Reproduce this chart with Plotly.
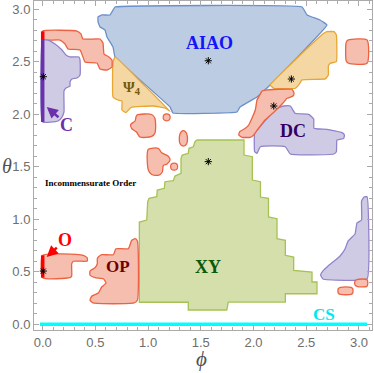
import plotly.graph_objects as go

# ---------------- data: region outlines (phi, theta) ----------------
aiao_phi = [0.686, 2.460, 2.508, 2.631, 2.697, 2.176, 2.033, 1.872, 1.843, 1.236, 1.208, 0.686, 0.667, 0.610, 0.591, 0.544, 0.525, 0.525, 0.563, 0.639, 0.667]
aiao_theta = [3.022, 3.022, 2.946, 2.898, 2.850, 2.298, 2.165, 2.070, 2.022, 2.012, 2.070, 2.546, 2.641, 2.736, 2.803, 2.831, 2.879, 2.927, 2.946, 2.946, 2.993]

psi_l_phi = [0.686, 0.667, 0.667, 0.714, 0.752, 0.752, 0.790, 0.838, 1.047, 1.160, 1.208, 0.950]
psi_l_theta = [2.546, 2.498, 2.165, 2.136, 2.127, 2.041, 2.017, 2.065, 2.079, 2.060, 2.030, 2.290]

psi_r_phi = [2.666, 2.697, 2.764, 2.786, 2.786, 2.729, 2.710, 2.710, 2.681, 2.460, 2.429, 2.397, 2.192, 2.159]
psi_r_theta = [2.771, 2.787, 2.787, 2.755, 2.501, 2.486, 2.460, 2.375, 2.337, 2.328, 2.280, 2.248, 2.248, 2.280]

pink_top_phi = [0.0, 0.325, 0.363, 0.382, 0.544, 0.572, 0.582, 0.629, 0.657, 0.657, 0.610, 0.544, 0.515, 0.401, 0.382, 0.354, 0.240, 0.212, 0.164, 0.022, 0.0]
pink_top_theta = [2.793, 2.793, 2.765, 2.717, 2.717, 2.679, 2.574, 2.546, 2.517, 2.450, 2.422, 2.431, 2.488, 2.498, 2.546, 2.612, 2.622, 2.669, 2.707, 2.707, 2.730]

c_phi = [0.0, 0.050, 0.117, 0.183, 0.221, 0.259, 0.344, 0.354, 0.354, 0.325, 0.278, 0.259, 0.259, 0.221, 0.202, 0.202, 0.183, 0.145, 0.0]
c_theta = [2.707, 2.707, 2.669, 2.612, 2.565, 2.546, 2.546, 2.517, 2.374, 2.346, 2.336, 2.307, 2.269, 2.250, 2.222, 2.022, 1.974, 1.936, 1.927]

o_phi = [0.0, 0.385, 0.423, 0.423, 0.392, 0.290, 0.275, 0.275, 0.259, 0.0]
o_theta = [0.657, 0.657, 0.631, 0.603, 0.600, 0.600, 0.574, 0.460, 0.444, 0.444]

op_phi = [0.528, 0.560, 0.670, 0.695, 0.812, 0.844, 0.876, 0.898, 0.898, 0.866, 0.480, 0.449, 0.465, 0.528, 0.560, 0.601, 0.575, 0.496, 0.449, 0.449, 0.496, 0.518, 0.518]
op_theta = [0.641, 0.663, 0.663, 0.720, 0.720, 0.800, 0.815, 0.793, 0.229, 0.203, 0.203, 0.229, 0.267, 0.298, 0.355, 0.393, 0.434, 0.444, 0.467, 0.508, 0.539, 0.577, 0.625]

xy_phi = [1.461, 1.910, 1.910, 1.989, 1.989, 2.066, 2.066, 2.142, 2.142, 2.223, 2.223, 2.302, 2.302, 2.381, 2.381, 2.555, 2.555, 2.602, 2.602, 2.302, 2.302, 1.761, 1.746, 1.381, 1.381, 0.917, 0.917, 0.987, 0.996, 1.009, 1.082, 1.087, 1.154, 1.160, 1.239, 1.255, 1.312, 1.312, 1.324, 1.381, 1.388, 1.429, 1.445]
xy_theta = [1.755, 1.755, 1.612, 1.596, 1.374, 1.358, 1.212, 1.200, 1.022, 1.006, 0.815, 0.800, 0.657, 0.641, 0.514, 0.498, 0.403, 0.403, 0.291, 0.291, 0.212, 0.212, 0.136, 0.136, 0.210, 0.210, 0.974, 0.993, 1.168, 1.200, 1.215, 1.279, 1.295, 1.358, 1.368, 1.412, 1.438, 1.581, 1.612, 1.629, 1.676, 1.691, 1.739]

dc_phi = [2.287, 2.349, 2.394, 2.524, 2.571, 2.574, 2.697, 2.840, 2.862, 2.856, 2.792, 2.786, 2.761, 2.349, 2.302, 2.065, 2.033, 2.011, 2.011, 2.049, 2.159, 2.223]
dc_theta = [2.079, 2.079, 2.010, 2.000, 1.955, 1.867, 1.857, 1.825, 1.803, 1.771, 1.755, 1.644, 1.622, 1.622, 1.691, 1.691, 1.629, 1.644, 1.819, 1.867, 1.993, 2.057]

pink_mid_phi = [2.112, 2.365, 2.384, 2.375, 2.318, 2.280, 2.195, 2.109, 2.043, 2.002, 1.970, 1.891, 1.860, 1.869, 1.922, 1.954, 1.986, 2.017, 2.033, 2.059, 2.081]
pink_mid_theta = [2.231, 2.238, 2.203, 2.174, 2.152, 2.108, 2.022, 1.946, 1.860, 1.803, 1.781, 1.781, 1.803, 1.834, 1.867, 1.898, 1.965, 2.041, 2.136, 2.184, 2.222]

purple_lr_phi = [3.077, 3.077, 2.659, 2.636, 2.659, 2.707, 2.754, 2.821, 2.868, 2.897, 2.963, 2.982, 3.025, 3.025, 3.048]
purple_lr_theta = [1.215, 0.431, 0.431, 0.470, 0.508, 0.555, 0.593, 0.650, 0.717, 0.793, 0.860, 0.965, 0.993, 1.174, 1.212]

pink_rect_phi = [2.900, 3.077, 3.077, 2.900, 2.879, 2.879]
pink_rect_theta = [2.708, 2.708, 2.486, 2.486, 2.510, 2.685]

blob1_phi = [2.980, 3.077, 3.077, 2.980, 2.963, 2.963]
blob1_theta = [0.425, 0.425, 0.362, 0.362, 0.375, 0.412]

blob2_phi = [2.825, 2.925, 2.941, 2.941, 2.925, 2.825, 2.804, 2.804]
blob2_theta = [0.352, 0.352, 0.340, 0.297, 0.285, 0.285, 0.297, 0.340]

blobA_phi = [0.895, 1.034, 1.065, 1.065, 1.034, 0.923, 0.890, 0.843, 0.835, 0.876, 0.885]
blobA_theta = [1.993, 1.998, 1.960, 1.822, 1.789, 1.784, 1.831, 1.865, 1.903, 1.936, 1.974]

blobB_phi = [1.002, 1.097, 1.129, 1.189, 1.208, 1.179, 1.144, 1.135, 1.097, 1.034, 1.002, 0.992]
blobB_theta = [1.667, 1.676, 1.634, 1.603, 1.565, 1.527, 1.512, 1.450, 1.419, 1.427, 1.470, 1.629]

capsule_phi = [1.334, 1.366, 1.366, 1.334, 1.303, 1.303]
capsule_theta = [1.845, 1.815, 1.720, 1.697, 1.720, 1.815]

dots_phi = [1.176, 1.247]
dots_theta = [1.971, 1.501]

stars_phi = [0.006, 0.006, 1.571, 1.571, 2.359, 2.192]
stars_theta = [2.358, 0.507, 2.510, 1.549, 2.336, 2.079]

# vertical / horizontal phase lines
c_line_theta = [1.927, 2.707]
red_top_theta = [2.707, 2.790]
o_line_theta = [0.444, 0.657]
cs_phi = [-0.026, 3.077]
cs_theta = [0.0, 0.0]

x_ticks = [0.0, 0.5, 1.0, 1.5, 2.0, 2.5, 3.0]
y_ticks = [0.0, 0.5, 1.0, 1.5, 2.0, 2.5, 3.0]

# ---------------- styles ----------------
PINK = ("rgb(246,190,175)", "rgb(236,98,66)")
BLUE = ("rgb(188,204,226)", "rgb(108,144,202)")
ORANGE = ("rgb(244,215,162)", "rgb(232,166,52)")
PURPLE = ("rgb(208,203,229)", "rgb(146,130,202)")
GREEN = ("rgb(212,223,172)", "rgb(166,194,82)")

fig = go.Figure()


def region(px, py, col, shape="spline", smooth=0.6):
    fig.add_trace(go.Scatter(
        x=px + [px[0]], y=py + [py[0]], mode="lines", fill="toself",
        fillcolor=col[0], line=dict(color=col[1], width=1.3, shape=shape, smoothing=smooth),
        hoverinfo="skip", showlegend=False))


region(xy_phi, xy_theta, GREEN, shape="linear")
region(aiao_phi, aiao_theta, BLUE, smooth=0.25)
region(psi_l_phi, psi_l_theta, ORANGE, smooth=0.3)
region(psi_r_phi, psi_r_theta, ORANGE, smooth=0.3)
region(pink_top_phi, pink_top_theta, PINK, smooth=0.4)
region(c_phi, c_theta, PURPLE, smooth=0.4)
region(o_phi, o_theta, PINK, smooth=0.5)
region(op_phi, op_theta, PINK, smooth=0.5)
region(dc_phi, dc_theta, PURPLE, smooth=0.4)
region(pink_mid_phi, pink_mid_theta, PINK, smooth=0.4)
region(purple_lr_phi, purple_lr_theta, PURPLE, smooth=0.3)
region(pink_rect_phi, pink_rect_theta, PINK, smooth=0.6)
region(blob1_phi, blob1_theta, PINK, smooth=0.8)
region(blob2_phi, blob2_theta, PINK, smooth=0.8)
region(blobA_phi, blobA_theta, PINK, smooth=0.8)
region(blobB_phi, blobB_theta, PINK, smooth=0.8)
region(capsule_phi, capsule_theta, PINK, smooth=1.0)

fig.add_trace(go.Scatter(x=dots_phi, y=dots_theta, mode="markers",
                         marker=dict(size=7, color=PINK[0], line=dict(color=PINK[1], width=1.2)),
                         hoverinfo="skip", showlegend=False))

# lines
fig.add_trace(go.Scatter(x=[0, 0], y=c_line_theta, mode="lines",
                         line=dict(color="rgb(108,48,170)", width=3.5), showlegend=False, hoverinfo="skip"))
fig.add_trace(go.Scatter(x=[0, 0], y=red_top_theta, mode="lines",
                         line=dict(color="rgb(255,0,0)", width=3.5), showlegend=False, hoverinfo="skip"))
fig.add_trace(go.Scatter(x=[0, 0], y=o_line_theta, mode="lines",
                         line=dict(color="rgb(255,0,0)", width=3.5), showlegend=False, hoverinfo="skip"))
fig.add_trace(go.Scatter(x=cs_phi, y=cs_theta, mode="lines",
                         line=dict(color="rgb(0,255,255)", width=3.5), showlegend=False, hoverinfo="skip"))

fig.add_trace(go.Scatter(x=stars_phi, y=stars_theta, mode="markers",
                         marker=dict(symbol="asterisk-open", size=6, color="black",
                                     line=dict(color="rgb(40,40,40)", width=1)),
                         showlegend=False, hoverinfo="skip"))

SERIF = "Liberation Serif"


def label(x, y, text, color, size):
    fig.add_annotation(x=x, y=y, xref="x", yref="y", text="<b>%s</b>" % text, showarrow=False,
                       font=dict(family=SERIF, size=size, color=color))


label(1.578, 2.676, "AIAO", "rgb(20,20,250)", 18)
label(1.571, 0.543, "XY", "rgb(10,90,10)", 18)
label(0.717, 0.546, "OP", "rgb(110,0,0)", 17)
label(2.375, 1.841, "DC", "rgb(50,0,100)", 18)
label(2.666, 0.092, "CS", "rgb(0,230,240)", 17)
label(0.844, 2.248, "Ψ<sub>4</sub>", "rgb(120,90,10)", 15)
label(0.227, 1.900, "C", "rgb(108,48,170)", 18)
label(0.210, 0.806, "O", "rgb(255,0,0)", 18)
label(0.450, 1.349, "Incommensurate Order", "black", 9)

# arrows
fig.add_annotation(x=0.038, y=2.07, ax=0.164, ay=1.96, xref="x", yref="y", axref="x", ayref="y",
                   text="", showarrow=True, arrowhead=2, arrowsize=0.9, arrowwidth=2.5,
                   arrowcolor="rgb(108,48,170)")
fig.add_annotation(x=0.038, y=0.64, ax=0.148, ay=0.743, xref="x", yref="y", axref="x", ayref="y",
                   text="", showarrow=True, arrowhead=2, arrowsize=0.9, arrowwidth=2.5,
                   arrowcolor="rgb(255,0,0)")

# axis titles
fig.add_annotation(x=-0.099, y=0.498, xref="paper", yref="paper", text="<i>θ</i>", showarrow=False,
                   borderpad=0, font=dict(family=SERIF, size=20, color="rgb(80,80,80)"))
fig.add_annotation(x=0.497, y=-0.128, xref="paper", yref="paper", text="<i>ϕ</i>", showarrow=False,
                   borderpad=0, font=dict(family=SERIF, size=21, color="rgb(80,80,80)"))

axis_common = dict(
    showgrid=False, zeroline=False, showline=True, linecolor="rgb(170,170,170)", linewidth=1,
    mirror="allticks", ticks="inside", ticklen=5, tickwidth=1, tickcolor="rgb(170,170,170)",
    tickfont=dict(family="Liberation Sans", size=13, color="rgb(110,110,110)"),
    minor=dict(ticks="inside", ticklen=3, dtick=0.1, tickcolor="rgb(170,170,170)"),
    automargin=False,
)
fig.update_xaxes(range=[-0.0825, 3.124], tickvals=x_ticks, ticktext=["%.1f" % v for v in x_ticks],
                 **axis_common)
fig.update_yaxes(range=[-0.0543, 3.079], tickvals=y_ticks, ticktext=["%.1f" % v for v in y_ticks],
                 **axis_common)

fig.update_layout(width=374, height=373, margin=dict(l=34, r=2, t=1, b=43, autoexpand=False),
                  plot_bgcolor="white", paper_bgcolor="white")

fig.write_html("out.html", config={"displayModeBar": False},
               post_script="document.body.style.margin='0';document.body.style.padding='0';"
                           "document.documentElement.style.overflow='hidden';")
